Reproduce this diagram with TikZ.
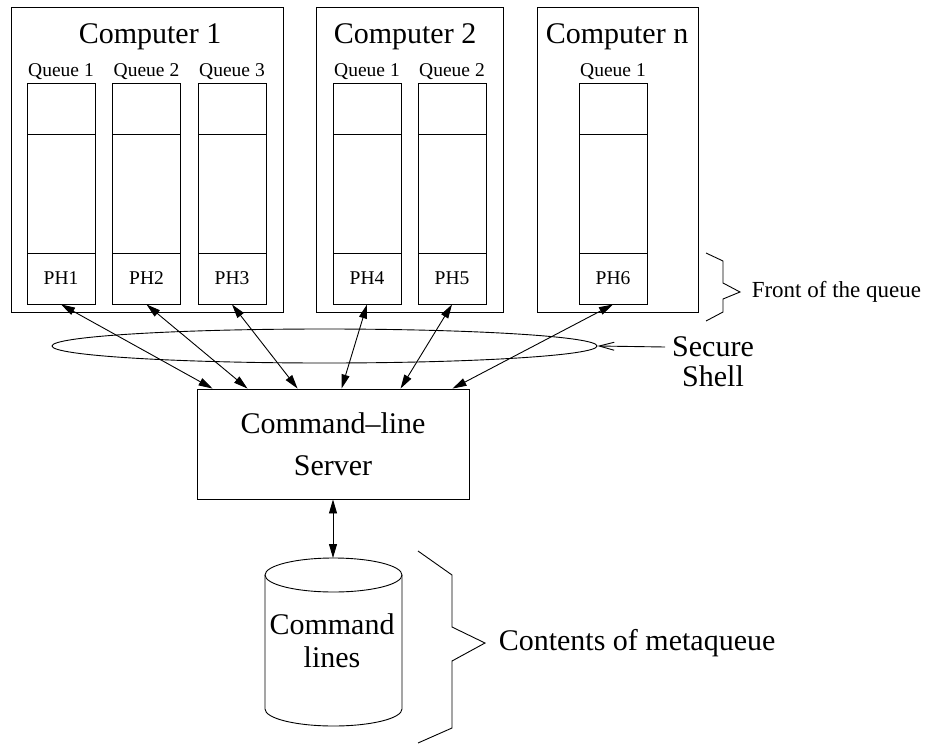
\documentclass[tikz,border=0pt]{standalone}
\usepackage{fontspec}
\setmainfont{Liberation Serif}
\usetikzlibrary{arrows.meta,shapes.geometric}
\begin{document}
\begin{tikzpicture}[x=1pt,y=-1pt,line width=0.9pt,
  big/.style={font=\fontsize{30}{36}\selectfont},
  small/.style={font=\fontsize{19.5}{23}\selectfont},
  cell/.style={draw,small,minimum width=68pt,minimum height=51pt,inner sep=0pt},
  link/.style={{Triangle[length=14pt,width=8pt]}-{Triangle[length=14pt,width=8pt]}}]
\useasboundingbox (0,0) rectangle (926,744);
\draw (11,7) rectangle (283,312) (316,7) rectangle (503,312) (537,7) rectangle (698,312);
\foreach \x/\t in {150/1,405/2,617/n} \node[big,anchor=base] (comp\t) at (\x,43) {Computer \t};
\foreach \x/\q/\p in {61/1/1,146.5/2/2,232/3/3,367/1/4,452/2/5,613/1/6}{
  \draw (\x-34,83) rectangle (\x+34,253) (\x-34,134) -- (\x+34,134);
  \node[small,anchor=base] (q\p) at (\x,76) {Queue \q};
  \node[cell] (ph\p) at (\x,278.5) {PH\p};
}
\draw (706,253) -- (723,261) -- (723,283) -- (740,292) -- (723,299) -- (723,312) -- (706,321);
\node[font=\fontsize{23}{27}\selectfont,anchor=base west] (front) at (748,297) {Front of the queue};
\node[draw,ellipse,minimum width=545pt,minimum height=34pt,inner sep=0pt] (ssh) at (324.5,346) {};
\node[font=\fontsize{30}{30}\selectfont,align=center] (sec) at (713,362) {Secure\\Shell};
\coordinate (secpt) at (665,347);
\draw[-{Straight Barb[length=15pt,width=8pt]}] (secpt) -- (ssh.east);
\node[draw,font=\fontsize{30}{42}\selectfont,align=center,minimum width=272pt,minimum height=110pt] (srv) at (333,444) {Command--line\\Server};
\foreach \p/\d in {1/16,2/51,3/101,4/145,5/204,6/256}
  \draw[link] (ph\p.south) -- ([xshift=\d]srv.north west);
\coordinate (dbtop) at (333,558);
\draw[link] (srv.south) -- (dbtop);
\draw (265,575) -- (265,709) arc[start angle=180,end angle=360,x radius=68.5pt,y radius=17pt] -- (402,575);
\draw (333.5,575) ellipse [x radius=68.5pt,y radius=17pt];
\node[font=\fontsize{30}{33}\selectfont,align=center] (db) at (332,641) {Command\\lines};
\draw (418,551) -- (452,575) -- (452,627) -- (485,643) -- (452,661) -- (452,728) -- (418,743);
\node[big,anchor=base west] (meta) at (495,650) {Contents of metaqueue};
\end{tikzpicture}
\end{document}
